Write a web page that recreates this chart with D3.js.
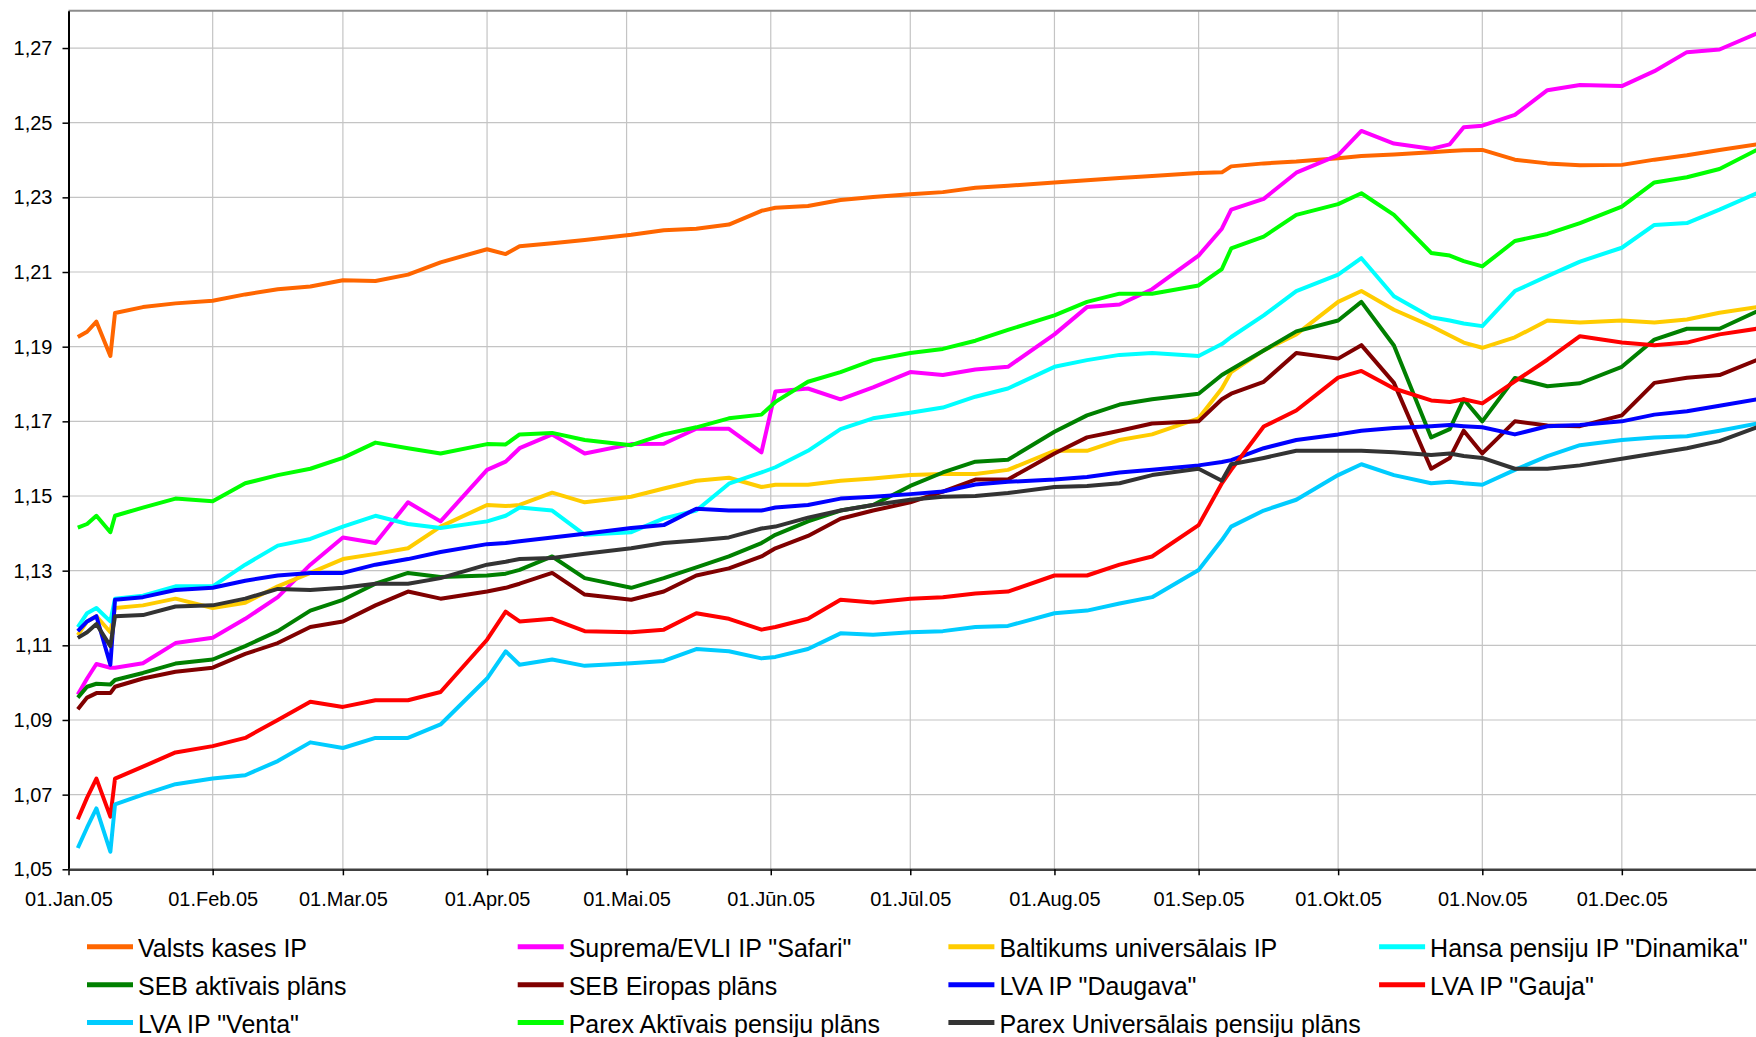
<!DOCTYPE html>
<html>
<head>
<meta charset="utf-8">
<script src="https://cdnjs.cloudflare.com/ajax/libs/d3/7.8.5/d3.min.js"></script>
<style>
  html, body { margin:0; padding:0; background:#fff; }
  svg { display:block; font-family: "Liberation Sans", Arial, sans-serif; }
</style>
</head>
<body>
<div id="chart"></div>
<script>
// sample dates (roughly weekly, denser where the lines jump)
const dates = [
  '2005-01-03','2005-01-05','2005-01-07','2005-01-10','2005-01-11','2005-01-17','2005-01-24',
  '2005-02-01','2005-02-08','2005-02-15','2005-02-22',
  '2005-03-01','2005-03-08','2005-03-15','2005-03-22',
  '2005-04-01','2005-04-05','2005-04-08','2005-04-15','2005-04-22',
  '2005-05-02','2005-05-09','2005-05-16','2005-05-23','2005-05-30',
  '2005-06-02','2005-06-09','2005-06-16','2005-06-23',
  '2005-07-01','2005-07-08','2005-07-15','2005-07-22',
  '2005-08-01','2005-08-08','2005-08-15','2005-08-22',
  '2005-09-01','2005-09-06','2005-09-08','2005-09-15','2005-09-22',
  '2005-10-01','2005-10-06','2005-10-13','2005-10-21','2005-10-25','2005-10-28',
  '2005-11-01','2005-11-08','2005-11-15','2005-11-22',
  '2005-12-01','2005-12-08','2005-12-15','2005-12-22','2005-12-30'
]

const valstsKases = [1.1926,1.1940,1.1967,1.1875,1.1990,1.2006,1.2016, 1.2023,1.2040,1.2054,1.2061, 1.2078,1.2076,1.2093,1.2126, 1.2161,1.2148,1.2169,1.2177,1.2186, 1.2200,1.2212,1.2216,1.2227,1.2264, 1.2272,1.2277,1.2293,1.2301, 1.2308,1.2314,1.2326,1.2331, 1.2340,1.2346,1.2352,1.2357, 1.2365,1.2367,1.2383,1.2391,1.2396, 1.2405,1.2411,1.2415,1.2421,1.2424,1.2426, 1.2427,1.2401,1.2391,1.2386, 1.2387,1.2401,1.2413,1.2427,1.2442]
const supremaSafari = [1.0968,1.1011,1.1050,1.1040,1.1040,1.1052,1.1106, 1.1120,1.1171,1.1229,1.1316, 1.1389,1.1374,1.1483,1.1432, 1.1570,1.1592,1.1628,1.1665,1.1614, 1.1639,1.1640,1.1680,1.1680,1.1617, 1.1780,1.1788,1.1759,1.1791, 1.1832,1.1824,1.1839,1.1846, 1.1933,1.2006,1.2013,1.2054, 1.2144,1.2216,1.2267,1.2296,1.2366, 1.2413,1.2478,1.2444,1.2430,1.2442,1.2488, 1.2492,1.2521,1.2587,1.2601, 1.2598,1.2638,1.2689,1.2696,1.2739]
const baltikums = [1.1127,1.1164,1.1178,1.1135,1.1200,1.1207,1.1225, 1.1200,1.1214,1.1258,1.1294, 1.1331,1.1345,1.1360,1.1418, 1.1476,1.1473,1.1476,1.1509,1.1483, 1.1498,1.1520,1.1541,1.1549,1.1524, 1.1530,1.1530,1.1541,1.1547, 1.1556,1.1559,1.1559,1.1570, 1.1621,1.1621,1.1650,1.1665, 1.1708,1.1788,1.1832,1.1890,1.1933, 1.2020,1.2049,1.1999,1.1955,1.1930,1.1911, 1.1897,1.1925,1.1970,1.1965, 1.1970,1.1965,1.1973,1.1991,1.2006]
const hansaDinamika = [1.1149,1.1186,1.1200,1.1164,1.1225,1.1233,1.1258, 1.1258,1.1316,1.1367,1.1385, 1.1418,1.1447,1.1425,1.1414, 1.1432,1.1447,1.1469,1.1461,1.1396, 1.1403,1.1440,1.1461,1.1533,1.1563, 1.1577,1.1621,1.1679,1.1708, 1.1723,1.1737,1.1766,1.1788, 1.1846,1.1864,1.1878,1.1883, 1.1875,1.1907,1.1926,1.1984,1.2049, 1.2093,1.2137,1.2035,1.1979,1.1970,1.1962, 1.1955,1.2049,1.2089,1.2128, 1.2165,1.2226,1.2231,1.2267,1.2311]
const sebAktivais = [1.0960,1.0989,1.0997,1.0995,1.1007,1.1026,1.1051, 1.1062,1.1098,1.1138,1.1193, 1.1222,1.1265,1.1294,1.1283, 1.1287,1.1292,1.1302,1.1338,1.1280, 1.1254,1.1280,1.1309,1.1338,1.1374, 1.1396,1.1432,1.1461,1.1476, 1.1527,1.1563,1.1592,1.1597, 1.1672,1.1716,1.1745,1.1759, 1.1774,1.1824,1.1839,1.1890,1.1941, 1.1970,1.2020,1.1903,1.1657,1.1679,1.1759, 1.1700,1.1816,1.1794,1.1802, 1.1846,1.1919,1.1948,1.1948,1.1994]
const sebEiropas = [1.0929,1.0960,1.0972,1.0972,1.0989,1.1011,1.1029, 1.1040,1.1077,1.1106,1.1149, 1.1164,1.1207,1.1244,1.1225, 1.1244,1.1254,1.1265,1.1294,1.1236, 1.1222,1.1244,1.1287,1.1306,1.1338, 1.1360,1.1393,1.1439,1.1461, 1.1483,1.1512,1.1544,1.1544, 1.1614,1.1657,1.1675,1.1694, 1.1700,1.1759,1.1774,1.1806,1.1883, 1.1868,1.1904,1.1803,1.1573,1.1602,1.1675, 1.1614,1.1700,1.1689,1.1687, 1.1716,1.1803,1.1817,1.1824,1.1864]
const lvaDaugava = [1.1138,1.1164,1.1178,1.1048,1.1222,1.1229,1.1248, 1.1254,1.1273,1.1287,1.1294, 1.1294,1.1316,1.1331,1.1350, 1.1371,1.1374,1.1379,1.1389,1.1399, 1.1414,1.1422,1.1466,1.1461,1.1461, 1.1469,1.1476,1.1493,1.1498, 1.1505,1.1512,1.1531,1.1538, 1.1544,1.1551,1.1563,1.1570, 1.1582,1.1591,1.1596,1.1628,1.1650, 1.1665,1.1675,1.1682,1.1687,1.1690,1.1687, 1.1684,1.1665,1.1687,1.1690, 1.1700,1.1718,1.1727,1.1742,1.1759]
const lvaGauja = [1.0634,1.0692,1.0743,1.0641,1.0743,1.0775,1.0813, 1.0830,1.0852,1.0900,1.0949, 1.0935,1.0953,1.0953,1.0975, 1.1115,1.1190,1.1164,1.1171,1.1138, 1.1135,1.1142,1.1186,1.1171,1.1142, 1.1149,1.1171,1.1222,1.1215, 1.1225,1.1229,1.1239,1.1244, 1.1287,1.1287,1.1316,1.1338, 1.1422,1.1534,1.1570,1.1686,1.1729, 1.1817,1.1835,1.1788,1.1756,1.1752,1.1759, 1.1748,1.1807,1.1865,1.1928, 1.1911,1.1904,1.1911,1.1933,1.1948]
const lvaVenta = [1.0557,1.0612,1.0663,1.0547,1.0674,1.0700,1.0728, 1.0743,1.0752,1.0790,1.0840, 1.0825,1.0852,1.0852,1.0888, 1.1011,1.1084,1.1048,1.1062,1.1045, 1.1052,1.1058,1.1090,1.1084,1.1065, 1.1069,1.1090,1.1132,1.1128, 1.1135,1.1138,1.1149,1.1152, 1.1186,1.1193,1.1212,1.1229, 1.1302,1.1382,1.1418,1.1461,1.1490, 1.1556,1.1585,1.1556,1.1534,1.1538,1.1534, 1.1530,1.1570,1.1607,1.1636, 1.1650,1.1657,1.1660,1.1675,1.1694]
const parexAktivais = [1.1415,1.1425,1.1447,1.1403,1.1447,1.1469,1.1493, 1.1486,1.1534,1.1556,1.1573, 1.1602,1.1643,1.1628,1.1614, 1.1639,1.1638,1.1665,1.1669,1.1650, 1.1636,1.1665,1.1684,1.1708,1.1718, 1.1752,1.1806,1.1832,1.1864, 1.1883,1.1894,1.1916,1.1945, 1.1984,1.2020,1.2042,1.2042, 1.2064,1.2108,1.2163,1.2195,1.2253, 1.2282,1.2311,1.2253,1.2151,1.2144,1.2129, 1.2115,1.2183,1.2202,1.2231, 1.2275,1.2340,1.2354,1.2376,1.2427]
const parexUniversalais = [1.1120,1.1135,1.1157,1.1098,1.1178,1.1181,1.1204, 1.1207,1.1225,1.1251,1.1248, 1.1254,1.1265,1.1265,1.1280, 1.1316,1.1324,1.1331,1.1334,1.1345, 1.1360,1.1374,1.1381,1.1389,1.1413, 1.1418,1.1442,1.1461,1.1476, 1.1490,1.1498,1.1500,1.1508, 1.1524,1.1527,1.1534,1.1556, 1.1573,1.1541,1.1585,1.1602,1.1621, 1.1621,1.1621,1.1617,1.1610,1.1614,1.1607, 1.1602,1.1573,1.1573,1.1582, 1.1600,1.1614,1.1628,1.1647,1.1684]

const seriesNames = ['Valsts kases IP','Suprema/EVLI IP "Safari"','Baltikums universālais IP','Hansa pensiju IP "Dinamika"',
  'SEB aktīvais plāns','SEB Eiropas plāns','LVA IP "Daugava"','LVA IP "Gauja"',
  'LVA IP "Venta"','Parex Aktīvais pensiju plāns','Parex Universālais pensiju plāns']
const seriesValues = [valstsKases,supremaSafari,baltikums,hansaDinamika,sebAktivais,sebEiropas,lvaDaugava,lvaGauja,lvaVenta,parexAktivais,parexUniversalais]
const seriesColors = ['#ff6600','#ff00ff','#ffcc00','#00ffff','#008000','#800000','#0000ff','#ff0000','#00ccff','#00ff00','#333333']

const monthLabels = ['01.Jan.05','01.Feb.05','01.Mar.05','01.Apr.05','01.Mai.05','01.Jūn.05','01.Jūl.05','01.Aug.05','01.Sep.05','01.Okt.05','01.Nov.05','01.Dec.05']
const yTicks = [1.05,1.07,1.09,1.11,1.13,1.15,1.17,1.19,1.21,1.23,1.25,1.27]

const W = 1756, H = 1037
const plotLeft = 68.5, plotTop = 10.7, plotBottom = 869.3

const parse = d3.timeParse('%Y-%m-%d')
const x = d3.scaleTime().domain([new Date(2005,0,1), new Date(2006,0,1)]).range([plotLeft, 1766])
const y = d3.scaleLinear().domain([1.05, 1.28]).range([plotBottom, plotTop])
const months = d3.timeMonth.range(new Date(2005,0,1), new Date(2006,0,1))
const comma = d3.formatLocale({decimal: ',', thousands: ' ', grouping: [3], currency: ['', '']}).format('.2f')

const svg = d3.select('#chart').append('svg').attr('width', W).attr('height', H)

svg.append('clipPath').attr('id','plotclip').append('rect')
  .attr('x', plotLeft).attr('y', plotTop).attr('width', W - plotLeft).attr('height', plotBottom - plotTop)

// grid
const grid = svg.append('g')
grid.selectAll('line.h').data(yTicks.slice(1)).enter().append('line')
  .attr('x1', plotLeft).attr('x2', W).attr('y1', d => y(d)).attr('y2', d => y(d))
  .attr('stroke', '#c4c4c4').attr('stroke-width', 1.2)
grid.selectAll('line.v').data(months.slice(1)).enter().append('line')
  .attr('x1', d => x(d)).attr('x2', d => x(d)).attr('y1', plotTop).attr('y2', plotBottom)
  .attr('stroke', '#c4c4c4').attr('stroke-width', 1.2)
// top border
svg.append('line').attr('x1', plotLeft).attr('x2', W).attr('y1', y(1.28)).attr('y2', y(1.28))
  .attr('stroke', '#8c8c8c').attr('stroke-width', 2)

// lines
const line = d3.line().x(d => x(d.date)).y(d => y(d.value))
const series = seriesNames.map((name, i) => ({
  name, color: seriesColors[i],
  points: dates.map((d, j) => ({date: parse(d), value: seriesValues[i][j]}))
}))
svg.append('g').attr('clip-path', 'url(#plotclip)')
  .selectAll('path').data(series).enter().append('path')
  .attr('d', d => line(d.points))
  .attr('fill', 'none').attr('stroke', d => d.color)
  .attr('stroke-width', 4).attr('stroke-linejoin', 'round')

// axes
const yAxis = svg.append('g').attr('transform', `translate(${plotLeft},0)`)
  .call(d3.axisLeft(y).tickValues(yTicks).tickFormat(comma).tickSize(6).tickSizeOuter(0).tickPadding(10))
yAxis.select('.domain').attr('stroke', '#000').attr('stroke-width', 2)
yAxis.selectAll('.tick line').attr('stroke', '#000').attr('stroke-width', 1.5)
yAxis.selectAll('.tick text').attr('font-size', 20).attr('fill', '#000').attr('font-family', '"Liberation Sans", Arial, sans-serif')

const xAxis = svg.append('g').attr('transform', `translate(0,${plotBottom})`)
  .call(d3.axisBottom(x).tickValues(months).tickFormat((d, i) => monthLabels[i]).tickSize(6).tickSizeOuter(0).tickPadding(17))
xAxis.select('.domain').attr('stroke', '#404040').attr('stroke-width', 2.5)
xAxis.selectAll('.tick line').attr('stroke', '#000').attr('stroke-width', 1.5)
xAxis.selectAll('.tick text').attr('font-size', 20).attr('fill', '#000').attr('font-family', '"Liberation Sans", Arial, sans-serif')

// legend, 4 columns
const legend = svg.append('g')
const item = legend.selectAll('g').data(series).enter().append('g')
  .attr('transform', (d, i) => `translate(${138 + (i % 4) * 430.7},${948.3 + Math.floor(i / 4) * 37.9})`)
item.append('line').attr('x1', -51).attr('x2', -5).attr('y1', -1.5).attr('y2', -1.5)
  .attr('stroke', d => d.color).attr('stroke-width', 5)
item.append('text').attr('x', 0).attr('y', 9).attr('font-size', 25).attr('fill', '#000')
  .text(d => d.name)
</script>
</body>
</html>
